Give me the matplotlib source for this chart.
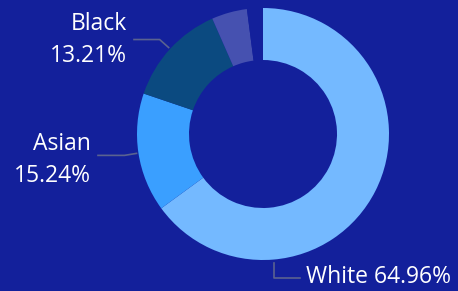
import numpy as np
import matplotlib
matplotlib.use("Agg")
import matplotlib.pyplot as plt

# ── data ──────────────────────────────────────────────────────────────────
kategorier = ["White", "Asian", "Black", "Other", ""]
andeler    = [64.96, 15.24, 13.21, 4.55, 2.04]   # siste = tomt gap i ringen
farger     = ["#74b9ff", "#3a9fff", "#0b4a80", "#4651b0", "#13209b"]
etiketter  = ["White 64.96%", "Asian\n15.24%", "Black\n13.21%"]

BG = "#13209b"
W, H = 458, 291
CX, CY, R, BREDDE = 263, 291 - 134, 126, 52

fig = plt.figure(figsize=(W / 100, H / 100), dpi=100, facecolor=BG)
ax = fig.add_axes([0, 0, 1, 1])
ax.set_facecolor(BG)

ax.pie(andeler, colors=farger, startangle=90, counterclock=False,
       center=(CX, CY), radius=R, frame=True,
       wedgeprops=dict(width=BREDDE, linewidth=0))
ax.set_xlim(0, W)
ax.set_ylim(0, H)
ax.set_aspect("equal")
ax.axis("off")

# vinkel for hvert segment (midtpunkt)
kum = np.cumsum([0] + andeler)
midt = [90 - 3.6 * (kum[i] + andeler[i] / 2) for i in range(len(andeler))]

linjefarge = "#5a6290"
tekst = dict(color="white", fontsize=16.5, family=["Open Sans", "DejaVu Sans"])

# Asian
a = np.deg2rad(midt[1])
p0 = (CX + (R + 2) * np.cos(a), CY + (R + 2) * np.sin(a))
ax.plot([p0[0], p0[0] - 12, 98], [p0[1], p0[1] - 2, p0[1] - 2],
        color=linjefarge, lw=1.2)
ax.text(91, 291 - 160, etiketter[1], ha="right", va="center",
        linespacing=1.4, **tekst)

# Black
a = np.deg2rad(midt[2])
p0 = (CX + (R + 2) * np.cos(a), CY + (R + 2) * np.sin(a))
ax.plot([p0[0], p0[0] - 9, 134], [p0[1], p0[1] + 8, p0[1] + 8],
        color=linjefarge, lw=1.2)
ax.text(127, 291 - 40, etiketter[2], ha="right", va="center",
        linespacing=1.4, **tekst)

# White (under ringen)
a = np.deg2rad(-85)
p0 = (CX + (R + 3) * np.cos(a), CY + (R + 3) * np.sin(a))
ax.plot([p0[0], p0[0], 300], [p0[1], 291 - 278, 291 - 278],
        color=linjefarge, lw=1.2)
ax.text(306, 291 - 277, etiketter[0], ha="left", va="center", **tekst)

fig.savefig("out.png", dpi=100, facecolor=BG)
